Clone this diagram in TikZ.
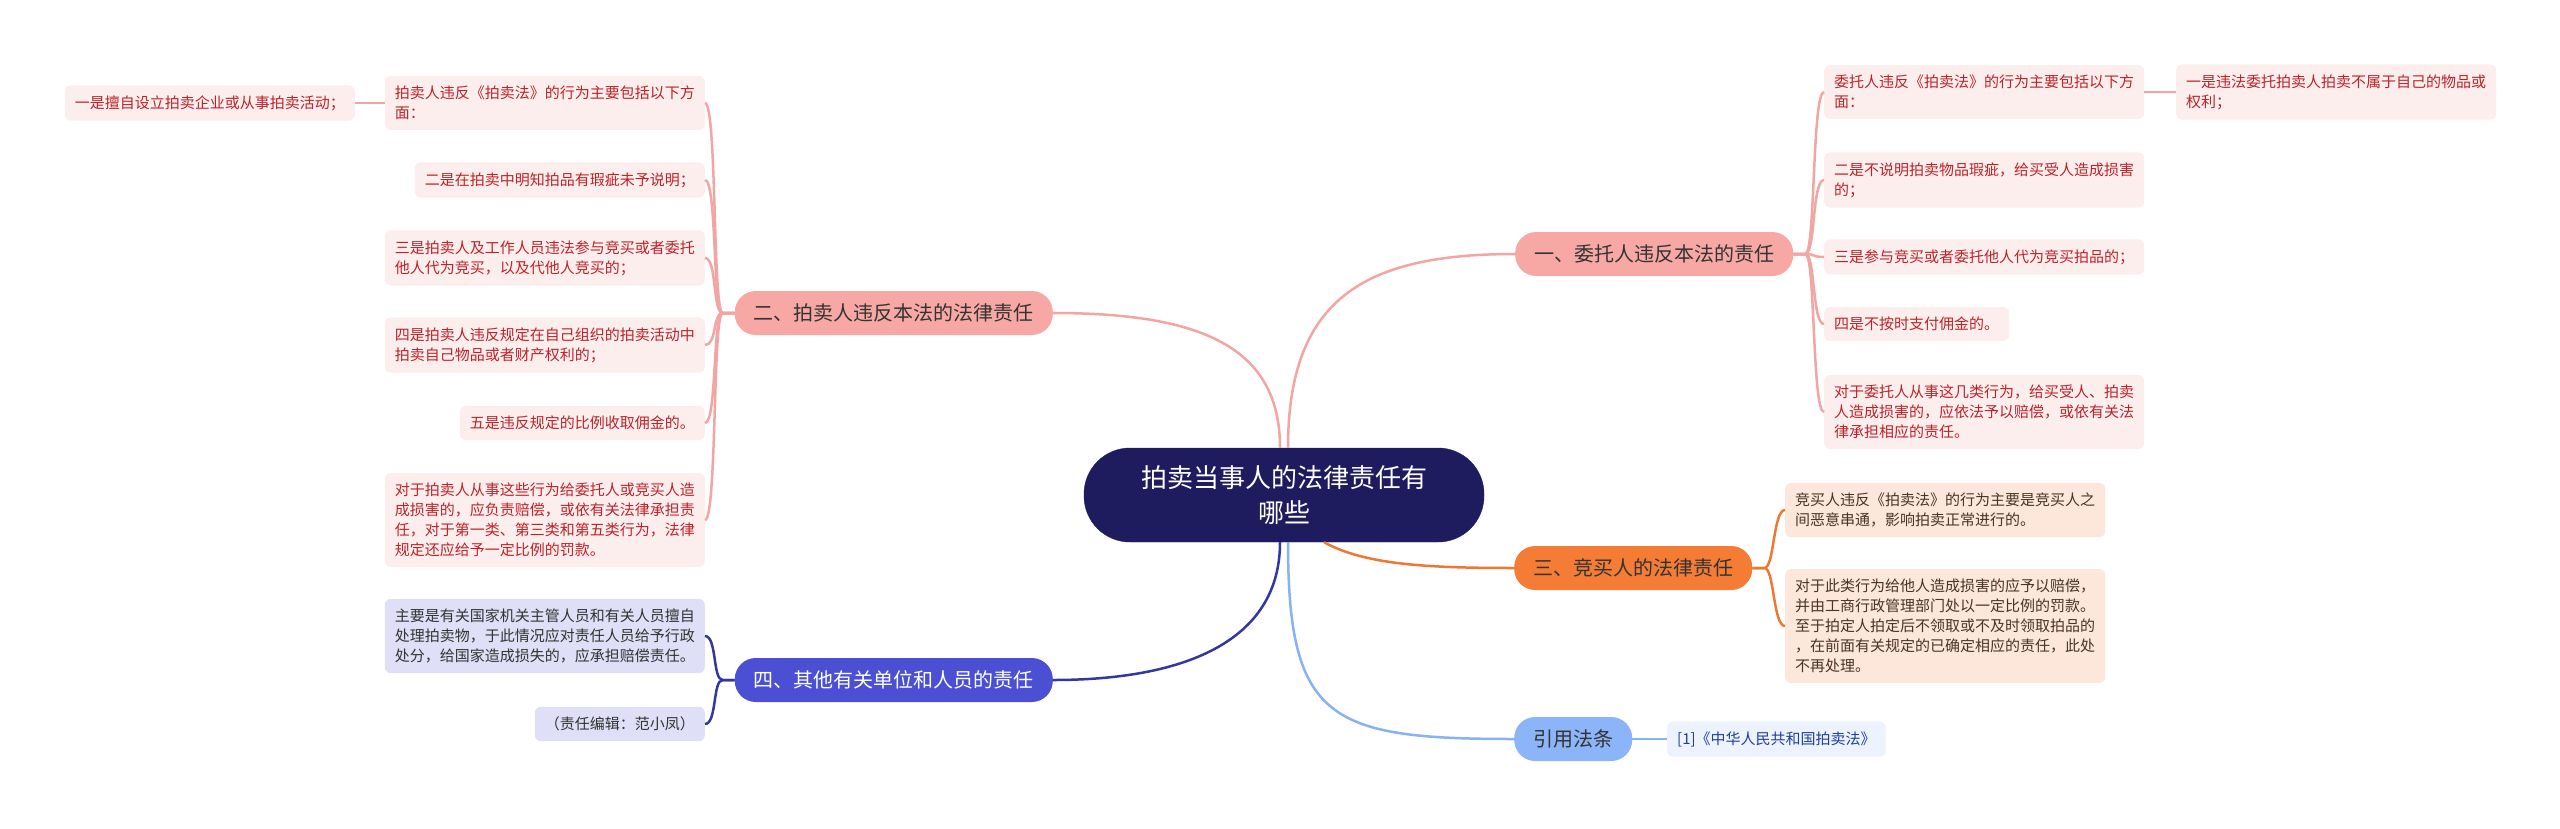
\documentclass[tikz,border=0pt]{standalone}
\usepackage{fontspec}
\setmainfont{Noto Sans CJK SC}
\usetikzlibrary{calc}
\definecolor{rootc}{HTML}{1E1B5E}
\definecolor{pinkB}{HTML}{F8A8A4}
\definecolor{pinkL}{HTML}{F2A5A3}
\definecolor{pinkLeaf}{HTML}{FDEEEE}
\definecolor{pinkTxt}{HTML}{BC2329}
\definecolor{orangeB}{HTML}{F47C35}
\definecolor{orangeL}{HTML}{EE7833}
\definecolor{orangeLeaf}{HTML}{FDE6DA}
\definecolor{orangeTxt}{HTML}{4A3424}
\definecolor{navyB}{HTML}{4B4FD4}
\definecolor{navyL}{HTML}{34379F}
\definecolor{navyLeaf}{HTML}{DFE0F7}
\definecolor{blueB}{HTML}{8BB5F8}
\definecolor{blueL}{HTML}{89B2F0}
\definecolor{blueLeaf}{HTML}{ECF2FE}
\definecolor{blueTxt}{HTML}{1F3F99}
\definecolor{darkTxt}{HTML}{333333}
\begin{document}
\begin{tikzpicture}[x=1pt,y=-1pt,
  rootnode/.style={fill=rootc, draw=rootc, text=white, rounded corners=46pt, minimum width=400pt, minimum height=94pt, align=center, font=\fontsize{26}{35}\selectfont, inner sep=0pt},
  brnode/.style={rounded corners=21pt, minimum height=44pt, inner xsep=19pt, inner ysep=0pt, font=\fontsize{20}{24}\selectfont},
  leafnode/.style={rounded corners=6pt, inner xsep=10pt, inner ysep=10pt, align=left, font=\fontsize{15}{20}\selectfont},
  pinkleaf/.style={leafnode, fill=pinkLeaf, text=pinkTxt},
  orangeleaf/.style={leafnode, fill=orangeLeaf, text=orangeTxt},
  navyleaf/.style={leafnode, fill=navyLeaf, text=darkTxt},
  blueleaf/.style={leafnode, fill=blueLeaf, text=blueTxt},
  pinkline/.style={draw=pinkL, line width=2.5pt},
  orangeline/.style={draw=orangeL, line width=2.5pt},
  navyline/.style={draw=navyL, line width=2.5pt},
  blueline/.style={draw=blueL, line width=2.5pt}
]
\useasboundingbox (0,0) rectangle (2560,828);
\fill[white] (0,0) rectangle (2560,828);

% root
\node[rootnode] (root) at (1284,495) {拍卖当事人的法律责任有\\哪些};

% branches
\node[brnode, fill=pinkB, text=darkTxt, anchor=west] (b1) at (1515,254) {一、委托人违反本法的责任};
\node[brnode, fill=pinkB, text=darkTxt, anchor=east] (b2) at (1053,313) {二、拍卖人违反本法的法律责任};
\node[brnode, fill=orangeB, text=darkTxt, anchor=west] (b3) at (1514,568) {三、竞买人的法律责任};
\node[brnode, fill=navyB, text=white, anchor=east] (b4) at (1053,680) {四、其他有关单位和人员的责任};
\node[brnode, fill=blueB, text=darkTxt, anchor=west] (b5) at (1514,739) {引用法条};

% branch 1 children
\node[pinkleaf, anchor=west] (c1) at (1824,92) {委托人违反《拍卖法》的行为主要包括以下方\\面：};
\node[pinkleaf, anchor=west] (c1a) at (2176,92) {一是违法委托拍卖人拍卖不属于自己的物品或\\权利；};
\node[pinkleaf, anchor=west] (c2) at (1824,180) {二是不说明拍卖物品瑕疵，给买受人造成损害\\的；};
\node[pinkleaf, anchor=west] (c3) at (1824,257) {三是参与竞买或者委托他人代为竞买拍品的；};
\node[pinkleaf, anchor=west] (c4) at (1824,324) {四是不按时支付佣金的。};
\node[pinkleaf, anchor=west] (c5) at (1824,412) {对于委托人从事这几类行为，给买受人、拍卖\\人造成损害的，应依法予以赔偿，或依有关法\\律承担相应的责任。};

% branch 2 children
\node[pinkleaf, anchor=east] (d1) at (705,103) {拍卖人违反《拍卖法》的行为主要包括以下方\\面：};
\node[pinkleaf, anchor=east] (d1a) at (355,103) {一是擅自设立拍卖企业或从事拍卖活动；};
\node[pinkleaf, anchor=east] (d2) at (705,180) {二是在拍卖中明知拍品有瑕疵未予说明；};
\node[pinkleaf, anchor=east] (d3) at (705,258) {三是拍卖人及工作人员违法参与竞买或者委托\\他人代为竞买，以及代他人竞买的；};
\node[pinkleaf, anchor=east] (d4) at (705,345) {四是拍卖人违反规定在自己组织的拍卖活动中\\拍卖自己物品或者财产权利的；};
\node[pinkleaf, anchor=east] (d5) at (705,423) {五是违反规定的比例收取佣金的。};
\node[pinkleaf, anchor=east] (d6) at (705,520) {对于拍卖人从事这些行为给委托人或竞买人造\\成损害的，应负责赔偿，或依有关法律承担责\\任，对于第一类、第三类和第五类行为，法律\\规定还应给予一定比例的罚款。};

% branch 3 children
\node[orangeleaf, anchor=west] (f1) at (1785,510) {竞买人违反《拍卖法》的行为主要是竞买人之\\间恶意串通，影响拍卖正常进行的。};
\node[orangeleaf, anchor=west] (f2) at (1785,626) {对于此类行为给他人造成损害的应予以赔偿，\\并由工商行政管理部门处以一定比例的罚款。\\至于拍定人拍定后不领取或不及时领取拍品的\\，在前面有关规定的已确定相应的责任，此处\\不再处理。};

% branch 4 children
\node[navyleaf, anchor=east] (e1) at (705,636) {主要是有关国家机关主管人员和有关人员擅自\\处理拍卖物，于此情况应对责任人员给予行政\\处分，给国家造成损失的，应承担赔偿责任。};
\node[navyleaf, anchor=east] (e2) at (705,724) {（责任编辑：范小凤）};

% branch 5 child
\node[blueleaf, anchor=west] (g1) at (1667,739) {[1]《中华人民共和国拍卖法》};

% root to branches
\draw[pinkline] ([xshift=4pt]root.north) .. controls ($([xshift=4pt]root.north)+(0,-150)$) and ($(b1.west)+(-150,0)$) .. (b1.west);
\draw[pinkline] ([xshift=-4pt]root.north) .. controls ($([xshift=-4pt]root.north)+(0,-100)$) and ($(b2.east)+(150,0)$) .. (b2.east);
\draw[orangeline] ([xshift=40pt]root.south) .. controls ($([xshift=40pt]root.south)+(40,22)$) and ($(b3.west)+(-90,0)$) .. (b3.west);
\draw[navyline] ([xshift=-4pt]root.south) .. controls ($([xshift=-4pt]root.south)+(0,100)$) and ($(b4.east)+(130,0)$) .. (b4.east);
\draw[blueline] ([xshift=4pt]root.south) .. controls ($([xshift=4pt]root.south)+(0,178)$) and ($(b5.west)+(-185,0)$) .. (b5.west);

% branch 1 connectors
\foreach \n in {c1,c2,c3,c4,c5}{
  \draw[pinkline] (b1.east) -- ++(12,0) .. controls ++(10,0) and ($(\n.west)+(-12,0)$) .. (\n.west);
}
\draw[pinkline] (c1.east) -- (c1a.west);

% branch 2 connectors
\foreach \n in {d1,d2,d3,d4,d5,d6}{
  \draw[pinkline] (b2.west) -- ++(-12,0) .. controls ++(-10,0) and ($(\n.east)+(12,0)$) .. (\n.east);
}
\draw[pinkline] (d1.west) -- (d1a.east);

% branch 3 connectors
\foreach \n in {f1,f2}{
  \draw[orangeline] (b3.east) -- ++(12,0) .. controls ++(10,0) and ($(\n.west)+(-12,0)$) .. (\n.west);
}

% branch 4 connectors
\foreach \n in {e1,e2}{
  \draw[navyline] (b4.west) -- ++(-12,0) .. controls ++(-10,0) and ($(\n.east)+(12,0)$) .. (\n.east);
}

% branch 5 connector
\draw[blueline] (b5.east) -- (g1.west);
\end{tikzpicture}
\end{document}
